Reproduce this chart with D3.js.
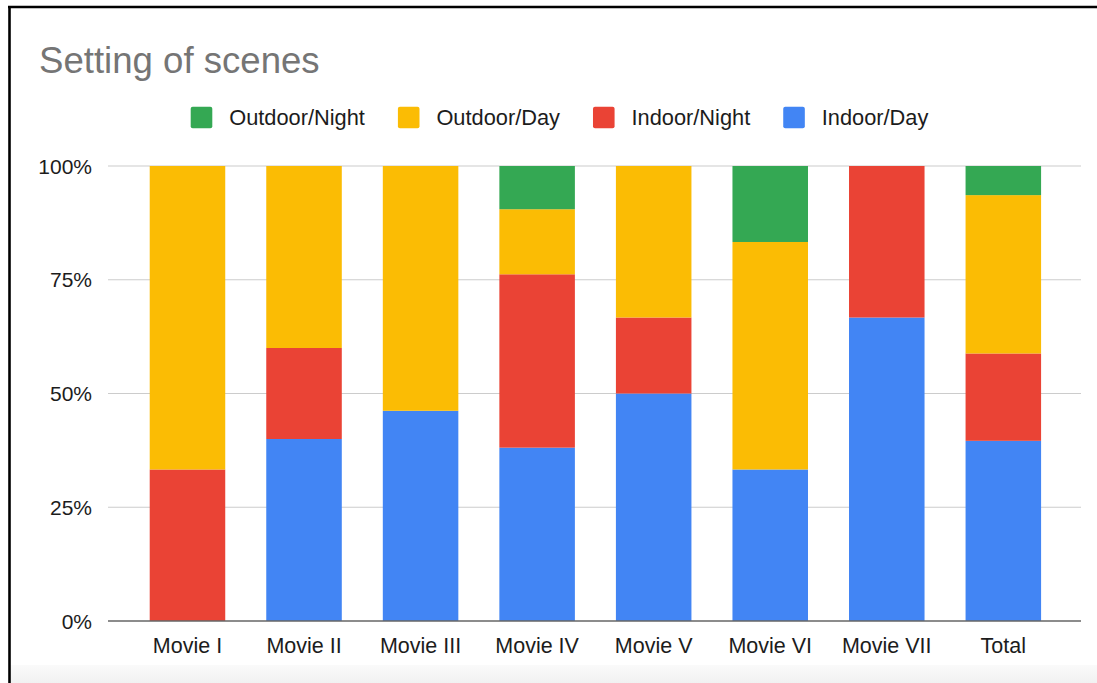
<!DOCTYPE html>
<html>
<head>
<meta charset="utf-8">
<script src="https://cdn.jsdelivr.net/npm/d3@7"></script>
<style>
  html, body { margin: 0; padding: 0; background: #fff; }
  svg { display: block; font-family: "Liberation Sans", Arial, Helvetica, sans-serif; }
</style>
</head>
<body>
<svg id="chart" width="1097" height="683"></svg>
<script>
// Share of scenes per setting, in percent
const categories = ["Movie I", "Movie II", "Movie III", "Movie IV", "Movie V", "Movie VI", "Movie VII", "Total"];
const seriesNames = ["Indoor/Day", "Indoor/Night", "Outdoor/Day", "Outdoor/Night"];
const indoorDay    = [0,    40, 46.2, 38.1, 50,   33.3, 66.7, 39.6];
const indoorNight  = [33.3, 20, 0,    38.1, 16.7, 0,    33.3, 19.2];
const outdoorDay   = [66.7, 40, 53.8, 14.3, 33.3, 50,   0,    34.8];
const outdoorNight = [0,    0,  0,    9.5,  0,    16.7, 0,    6.4];
const yTicks = [0, 25, 50, 75, 100];
const seriesColors = ["#4285F4", "#EA4335", "#FBBC04", "#34A853"];

const rows = categories.map((c, i) => ({
  category: c,
  "Indoor/Day": indoorDay[i],
  "Indoor/Night": indoorNight[i],
  "Outdoor/Day": outdoorDay[i],
  "Outdoor/Night": outdoorNight[i]
}));

const svg = d3.select("#chart");
const W = 1097, H = 683;

// frame: dark rule on top and left, pale strip along the bottom
const strip = svg.append("defs").append("linearGradient").attr("id", "strip")
  .attr("x1", 0).attr("y1", 0).attr("x2", 0).attr("y2", 1);
strip.append("stop").attr("offset", 0).attr("stop-color", "#fafafa");
strip.append("stop").attr("offset", 1).attr("stop-color", "#f1f1f1");
svg.append("rect").attr("x", 10).attr("y", 665).attr("width", W - 10).attr("height", H - 665)
  .attr("fill", "url(#strip)");
svg.append("line").attr("x1", 9.5).attr("x2", 9.5).attr("y1", 6).attr("y2", H)
  .attr("stroke", "#000").attr("stroke-width", 2.6);
svg.append("line").attr("x1", 8).attr("x2", W).attr("y1", 7).attr("y2", 7)
  .attr("stroke", "#000").attr("stroke-width", 2.6);

const plotLeft = 108, plotRight = 1081;
const x = d3.scaleBand().domain(categories).range([129.2, 1061.6])
  .paddingInner(0.352).paddingOuter(0.176);
const y = d3.scaleLinear().domain([0, 100]).range([621, 166]);
const color = d3.scaleOrdinal().domain(seriesNames).range(seriesColors);

// title
svg.append("text").attr("x", 39).attr("y", 73)
  .attr("font-size", 36.6).attr("fill", "#757575").text("Setting of scenes");

// gridlines
svg.append("g").selectAll("line").data(yTicks.filter(t => t > 0)).join("line")
  .attr("x1", plotLeft).attr("x2", plotRight)
  .attr("y1", d => y(d)).attr("y2", d => y(d))
  .attr("stroke", "#cccccc").attr("stroke-width", 1.2);

// y tick labels
svg.append("g").selectAll("text").data(yTicks).join("text")
  .attr("x", 92).attr("y", d => y(d)).attr("dy", "0.36em")
  .attr("text-anchor", "end").attr("font-size", 21).attr("fill", "#1c1c1c")
  .text(d => d + "%");

// stacked bars
const stacked = d3.stack().keys(seriesNames)(rows);
svg.append("g").selectAll("g").data(stacked).join("g")
  .attr("fill", d => color(d.key))
  .selectAll("rect").data(d => d).join("rect")
  .attr("x", d => x(d.data.category))
  .attr("width", x.bandwidth())
  .attr("y", d => y(d[1]))
  .attr("height", d => Math.max(0, y(d[0]) - y(d[1])));

// baseline
svg.append("line").attr("x1", plotLeft).attr("x2", plotRight)
  .attr("y1", y(0)).attr("y2", y(0))
  .attr("stroke", "#666").attr("stroke-width", 1.6);

// x labels
svg.append("g").selectAll("text").data(categories).join("text")
  .attr("x", d => x(d) + x.bandwidth() / 2).attr("y", 653)
  .attr("text-anchor", "middle").attr("font-size", 21.5).attr("fill", "#1c1c1c")
  .text(d => d);

// legend, top series first
const legend = svg.append("g");
let lx = 190.7;
seriesNames.slice().reverse().forEach(name => {
  legend.append("rect").attr("x", lx).attr("y", 106.7).attr("width", 21.6).attr("height", 21.6)
    .attr("rx", 2).attr("fill", color(name));
  const t = legend.append("text").attr("x", lx + 38.5).attr("y", 117.5).attr("dy", "0.36em")
    .attr("font-size", 21.8).attr("fill", "#1c1c1c").text(name);
  lx += 38.5 + t.node().getComputedTextLength() + 33;
});
</script>
</body>
</html>
